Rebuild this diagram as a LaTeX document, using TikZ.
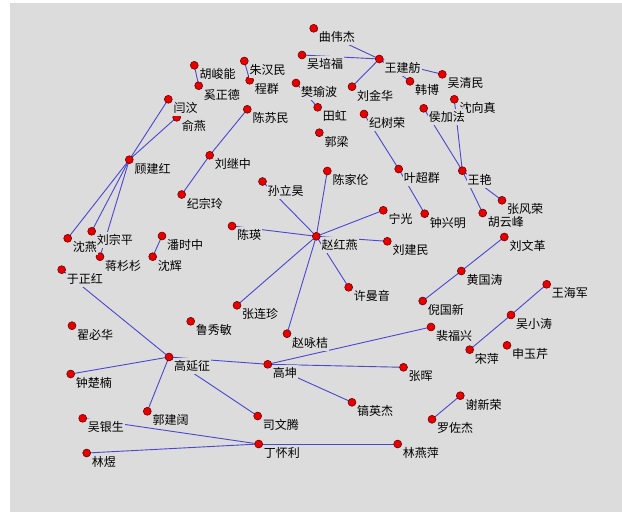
\documentclass[tikz,border=0pt]{standalone}
\usepackage{fontspec}
\newfontfamily\cjk{Noto Sans CJK SC}
\definecolor{bg}{RGB}{220,220,220}
\definecolor{edgeblue}{RGB}{72,72,208}
\definecolor{dotred}{RGB}{232,0,0}
\definecolor{dotrim}{RGB}{90,0,0}
\def\people{qwj/313.7/28.3/曲伟杰, wpf/302/55/吴培福, wjf/379.3/59/王建舫, zhm/244.3/61/朱汉民,
cq/249.7/80.3/程群, fyb/296/83/樊瑜波, ljh/352/86.7/刘金华, th/317.7/107.3/田虹,
csm/247.3/109.3/陈苏民, jsr/364/114/纪树荣, gl/319.3/132.7/郭梁, ycq/398.7/169/叶超群,
cjl/327.3/171/陈家伦, slh/262.5/181.5/孙立昊, hjn/194.3/65.3/胡峻能, xzd/198.7/85.7/奚正德,
yw/168.3/99.3/闫汶, yy/176.7/117.3/俞燕, gjh/129.3/159.7/顾建红, ljz/209.7/155.3/刘继中,
jzl/181.7/194.5/纪宗玲, wqm/442.3/74.3/吴清民, hb/410/81.3/韩博, sxz/454.3/99.3/沈向真,
hjf/423.7/108.3/侯加法, wya/462.3/170.7/王艳, zfr/502/200.3/张风荣, hyf/482.7/213/胡云峰,
zxm/424.7/213.7/钟兴明, lwg/504.3/237/刘文革, sy/67.7/238.3/沈燕, lzp/91.7/231.3/刘宗平,
jss/100/256.7/蒋杉杉, psz/162/236/潘时中, sh/152.7/256.7/沈辉, yzh/61.7/269.7/于正红,
zbh/72/325.7/翟必华, lxm/190.7/321.3/鲁秀敏, gyz/169/357/高延征, ng/383.3/210.3/宁光,
cy/232/226/陈瑛, zhy/316.3/236.3/赵红燕, ljm/387.3/241.3/刘建民, xmy/348.7/287.3/许曼音,
zlz/237/305.3/张连珍, zyj/287/333.7/赵咏桔, hgt/461.3/271/黄国涛, whj/546.7/284.3/王海军,
ngx/422.7/301/倪国新, wxt/511/315/吴小涛, pfx/431/327/裴福兴, sp/469.7/349.7/宋萍,
syq/507/345.3/申玉芹, zh/403.5/367.3/张晖, zct/70.7/374/钟楚楠, gjk/147.3/411.3/郭建阔,
wys/82.7/418.3/吴银生, ly/86.7/453/林煜, gk/267.7/364.3/高坤, xxr/460.3/395.7/谢新荣,
yyj/352/402.3/镐英杰, swt/257.7/416/司文腾, lzj/432/419.3/罗佐杰, dhl/258.7/444/丁怀利,
lyp/397.7/444/林燕萍}
\def\links{qwj/wjf, wpf/wjf, wjf/ljh, wjf/wqm, wjf/hb, zhm/cq, hjn/xzd, fyb/th,
jsr/ycq, ycq/zxm, hjf/wya, sxz/wya, wya/zfr, wya/hyf, csm/ljz, ljz/jzl,
yw/gjh, yy/gjh, gjh/sy, gjh/lzp, gjh/jss, psz/sh,
zhy/cjl, zhy/slh, zhy/ng, zhy/cy, zhy/ljm, zhy/xmy, zhy/zlz, zhy/zyj,
lwg/hgt, hgt/ngx, whj/wxt, wxt/sp, yzh/gyz, gyz/zct, gyz/gjk, gyz/gk, gyz/swt,
gk/pfx, gk/zh, gk/yyj, xxr/lzj, wys/dhl, ly/dhl, dhl/lyp}
\begin{document}
\begin{tikzpicture}[x=1pt,y=-1pt,
  dotnode/.style={circle,fill=dotred,draw=dotrim,line width=0.5pt,minimum size=8pt,inner sep=0pt},
  lab/.style={anchor=west,fill=bg,inner xsep=1pt,inner ysep=2.5pt,font=\cjk\fontsize{12}{12}\selectfont,text=black},
  link/.style={draw=edgeblue,line width=0.9pt}]
\useasboundingbox (0,0) rectangle (622,512);
\fill[white] (0,0) rectangle (622,512);
\fill[bg] (10,3) rectangle (622,512);
\foreach \id/\x/\y/\t in \people { \coordinate (\id) at (\x,\y); }
\foreach \a/\b in \links { \draw[link] (\a) -- (\b); }
\foreach \id/\x/\y/\t in \people { \node[dotnode] (d\id) at (\id) {}; }
\foreach \id/\x/\y/\t in \people { \node[lab] (t\id) at ([shift={(4,9)}]\id) {\t}; }
\end{tikzpicture}
\end{document}
